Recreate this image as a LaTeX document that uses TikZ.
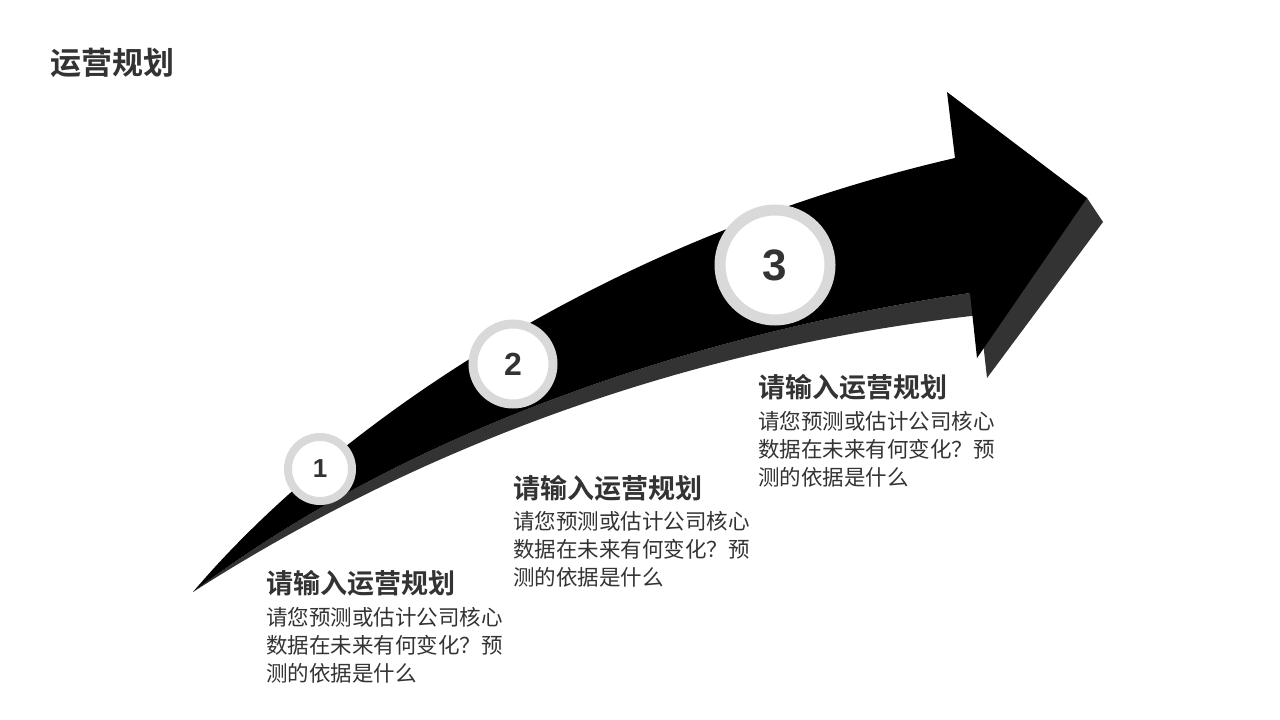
\documentclass[tikz,border=0pt]{standalone}
\usepackage{fontspec}
\setmainfont{Liberation Sans}
\newfontfamily\cjk{Noto Sans CJK SC}
\newfontfamily\cjkb{Noto Sans CJK SC Bold}
\definecolor{txt}{HTML}{333333}
\definecolor{ring}{HTML}{D9D9D9}
\begin{document}
\begin{tikzpicture}[x=1pt,y=-1pt,
  numc/.style={circle,draw=ring,fill=white,text=txt,font=\bfseries},
  ttl/.style={anchor=west,text=txt,font=\cjkb\fontsize{27}{30}\selectfont,inner sep=0},
  body/.style={anchor=north west,text=txt,font=\cjk\fontsize{21.5}{28}\selectfont,align=left,inner sep=0}]
\useasboundingbox (0,0) rectangle (1280,720);
\node[anchor=west,text=txt,font=\cjkb\fontsize{31}{34}\selectfont,inner sep=0] (hdr) at (50,63) {运营规划};
% shadow
\fill[txt] (193,592) .. controls (410,428) and (700,333) .. (970,293) -- (1087,198) -- (1103,222) -- (987,378) -- (980,315) .. controls (700,346) and (430,440) .. (193,592) -- cycle;
% arrow
\fill[black] (193,592) .. controls (330,430) and (600,240) .. (955,158) -- (947,92) -- (1087,198) -- (977,358) -- (970,293) .. controls (700,333) and (410,428) .. (193,592) -- cycle;
\node[numc,line width=8pt,minimum size=64pt,font=\bfseries\fontsize{26}{26}\selectfont] (c1) at (320,469) {1};
\node[numc,line width=9pt,minimum size=80pt,font=\bfseries\fontsize{32}{32}\selectfont] (c2) at (513,364) {2};
\node[numc,line width=11pt,minimum size=110pt,font=\bfseries\fontsize{44}{44}\selectfont] (c3) at (775,265) {3};
\node[ttl] (t1) at (266,583) {请输入运营规划};
\node[body] (b1) at (266,607) {请您预测或估计公司核心\\数据在未来有何变化？预\\测的依据是什么};
\node[ttl] (t2) at (513,488) {请输入运营规划};
\node[body] (b2) at (513,511) {请您预测或估计公司核心\\数据在未来有何变化？预\\测的依据是什么};
\node[ttl] (t3) at (758,387) {请输入运营规划};
\node[body] (b3) at (758,411) {请您预测或估计公司核心\\数据在未来有何变化？预\\测的依据是什么};
\end{tikzpicture}
\end{document}
